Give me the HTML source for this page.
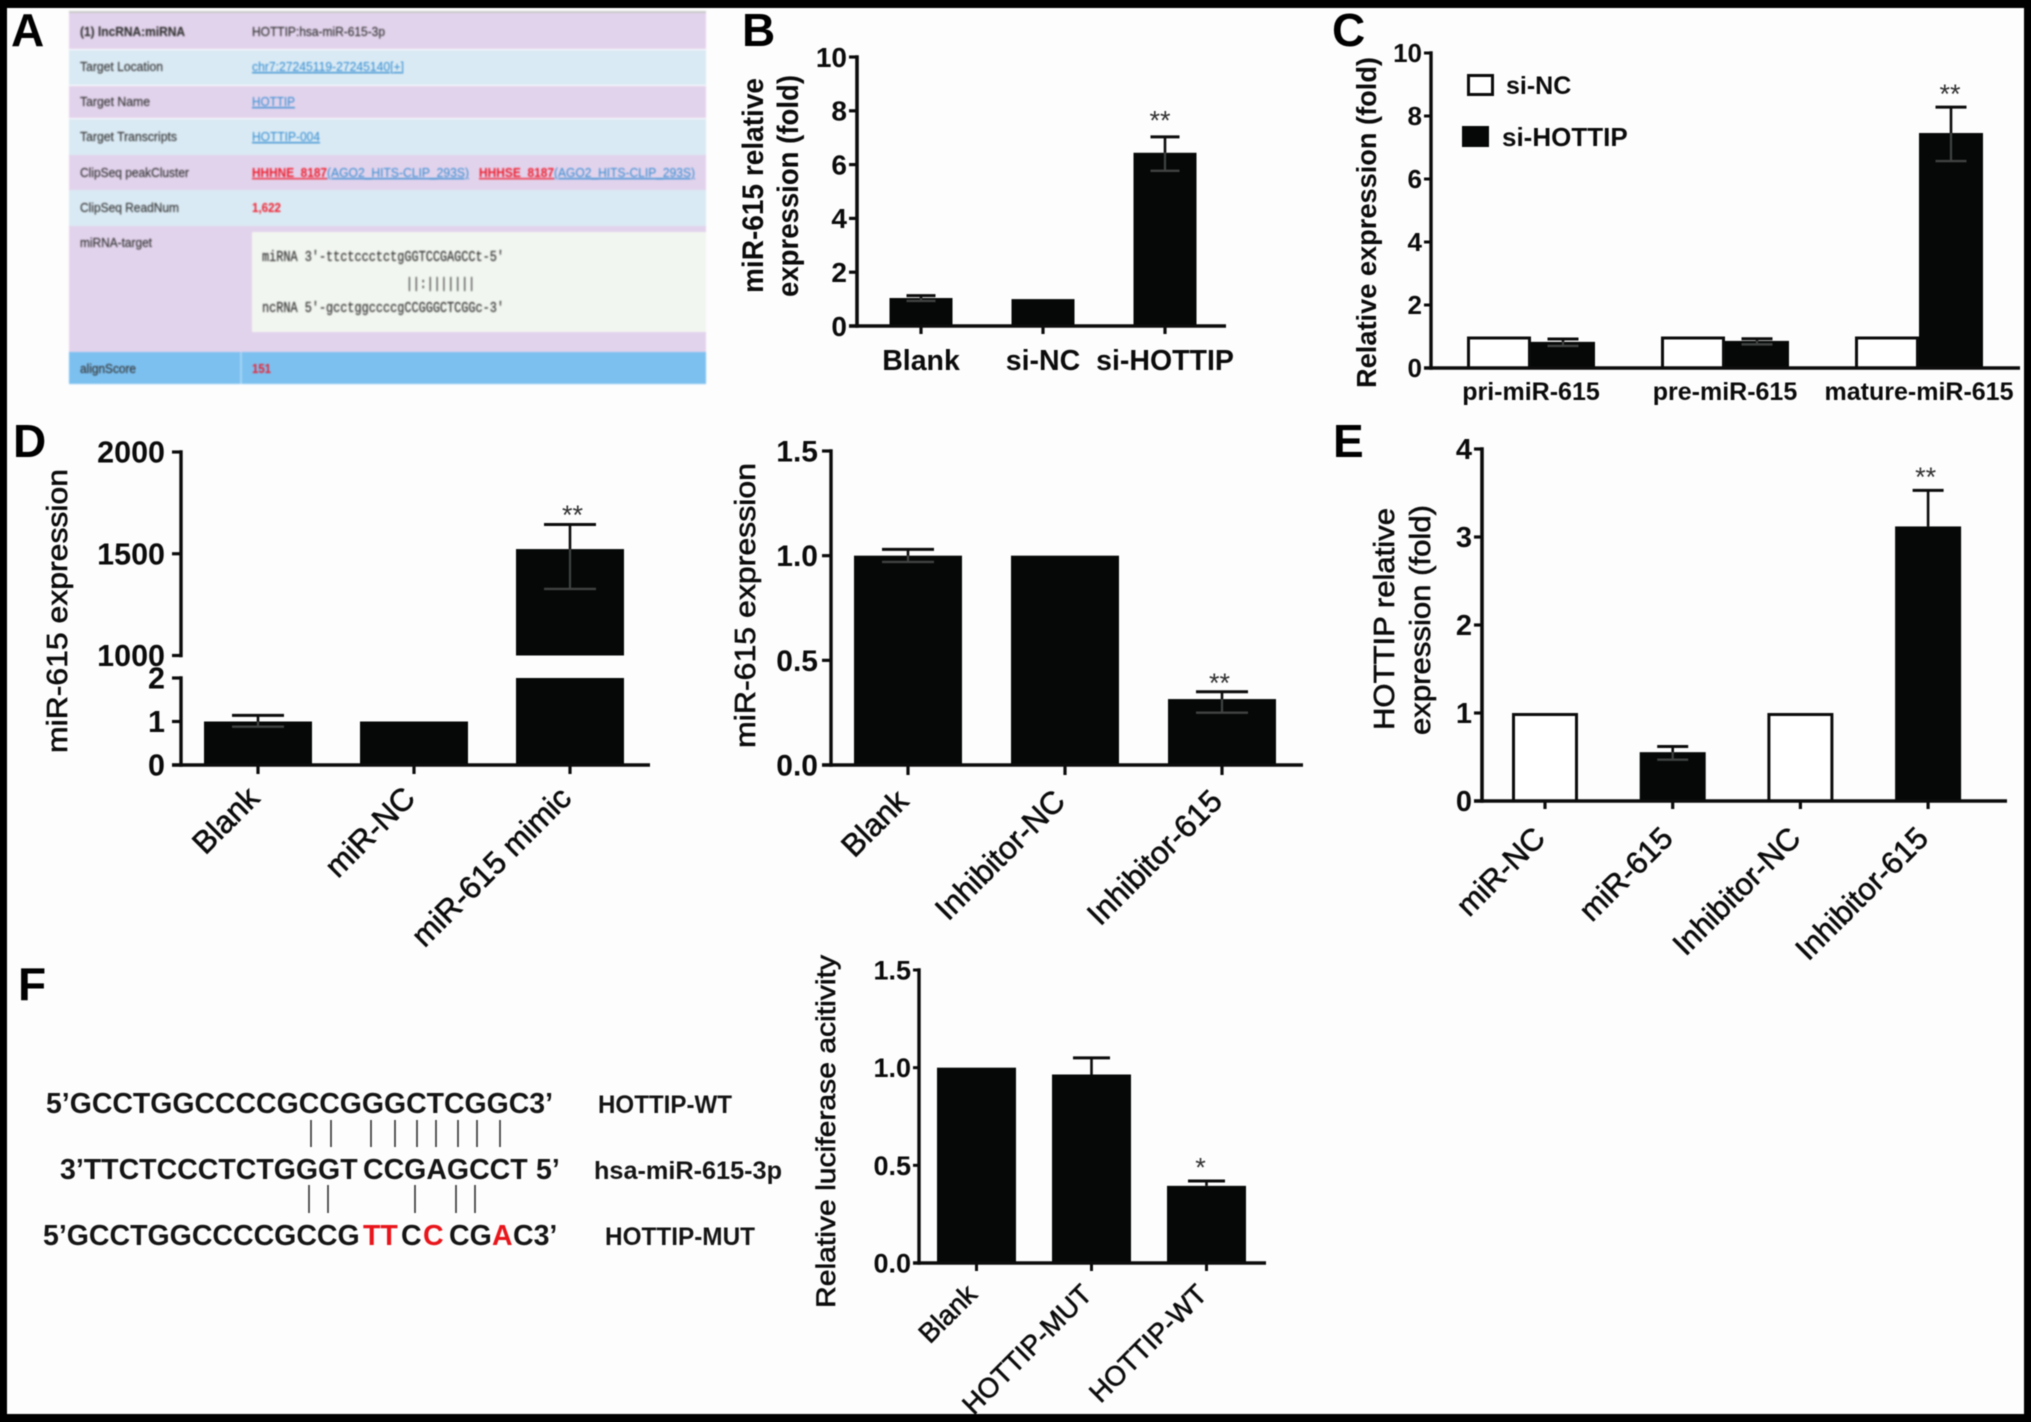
<!DOCTYPE html>
<html lang="en">
<head>
<meta charset="utf-8">
<title>HOTTIP and miR-615 figure</title>
<style>
html,body{margin:0;padding:0;background:#000;}
svg{display:block;filter:blur(0.45px);}
text{font-family:"Liberation Sans",sans-serif;fill:#0c0c0c;}
.panel-letter{font-size:46px;font-weight:bold;fill:#000;}
.title-bold{font-weight:bold;font-size:30px;}
.title-med{font-size:29px;stroke:#0c0c0c;stroke-width:.6px;}
.a-label{font-size:13px;fill:#333;stroke:#333;stroke-width:.15px;}
.a-link{font-size:13px;fill:#2f8ad0;text-decoration:underline;}
.a-red{font-size:13px;font-weight:bold;fill:#f01c2c;}
.a-redlink{font-size:13px;font-weight:bold;fill:#f01c2c;text-decoration:underline;}
.a-mono{font-family:"Liberation Mono",monospace;font-size:15px;fill:#333;stroke:#333;stroke-width:.2px;}
.seq{font-size:28.5px;font-weight:bold;fill:#151515;}
.seq-name{font-size:25px;font-weight:bold;fill:#151515;}
.red{fill:#e8161c;}
</style>
</head>
<body>
<svg id="figure" xmlns="http://www.w3.org/2000/svg" width="2031" height="1422" viewBox="0 0 2031 1422">
  <rect x="0" y="0" width="2031" height="1422" fill="#000"/>
  <rect x="7" y="8" width="2017" height="1406" fill="#fdfdfd"/>

  <text class="panel-letter" x="11" y="46">A</text>
  <text class="panel-letter" x="742" y="46">B</text>
  <text class="panel-letter" x="1332" y="46">C</text>
  <text class="panel-letter" x="13" y="457">D</text>
  <text class="panel-letter" x="1333" y="457">E</text>
  <text class="panel-letter" x="18" y="1000">F</text>

  <g id="panel-a" style="filter:blur(.7px)">
    <rect x="69" y="11" width="637" height="3" fill="#c9c9c9"/>
    <rect x="69" y="13" width="637" height="36" fill="#e2d3ec"/>
    <rect x="69" y="50" width="637" height="35" fill="#daeaf4"/>
    <rect x="69" y="86" width="637" height="32" fill="#e2d3ec"/>
    <rect x="69" y="119" width="637" height="36" fill="#daeaf4"/>
    <rect x="69" y="155" width="637" height="35" fill="#e2d3ec"/>
    <rect x="69" y="190" width="637" height="36" fill="#daeaf4"/>
    <rect x="69" y="226" width="637" height="126" fill="#e2d3ec"/>
    <rect x="252" y="232" width="454" height="100" fill="#f2f6f0"/>
    <rect x="69" y="352" width="637" height="32" fill="#7cc0f0"/>
    <rect x="240" y="352" width="2" height="32" fill="#a4d4f4"/>

    <text class="a-label" style="font-weight:bold" x="80" y="36" textLength="105" lengthAdjust="spacingAndGlyphs">(1) lncRNA:miRNA</text>
    <text class="a-label" x="252" y="36" textLength="133" lengthAdjust="spacingAndGlyphs">HOTTIP:hsa-miR-615-3p</text>
    <text class="a-label" x="80" y="71" textLength="83" lengthAdjust="spacingAndGlyphs">Target Location</text>
    <text class="a-link" x="252" y="71" textLength="152" lengthAdjust="spacingAndGlyphs">chr7:27245119-27245140[+]</text>
    <text class="a-label" x="80" y="106" textLength="70" lengthAdjust="spacingAndGlyphs">Target Name</text>
    <text class="a-link" x="252" y="106" textLength="43" lengthAdjust="spacingAndGlyphs">HOTTIP</text>
    <text class="a-label" x="80" y="141" textLength="97" lengthAdjust="spacingAndGlyphs">Target Transcripts</text>
    <text class="a-link" x="252" y="141" textLength="68" lengthAdjust="spacingAndGlyphs">HOTTIP-004</text>
    <text class="a-label" x="80" y="177" textLength="109" lengthAdjust="spacingAndGlyphs">ClipSeq peakCluster</text>
    <text class="a-redlink" x="252" y="177" textLength="75" lengthAdjust="spacingAndGlyphs">HHHNE_8187</text>
    <text class="a-link" x="327" y="177" textLength="142" lengthAdjust="spacingAndGlyphs">(AGO2_HITS-CLIP_293S)</text>
    <text class="a-redlink" x="479" y="177" textLength="75" lengthAdjust="spacingAndGlyphs">HHHSE_8187</text>
    <text class="a-link" x="554" y="177" textLength="141" lengthAdjust="spacingAndGlyphs">(AGO2_HITS-CLIP_293S)</text>
    <text class="a-label" x="80" y="212" textLength="99" lengthAdjust="spacingAndGlyphs">ClipSeq ReadNum</text>
    <text class="a-red" x="252" y="212" textLength="29" lengthAdjust="spacingAndGlyphs">1,622</text>
    <text class="a-label" x="80" y="247" textLength="72" lengthAdjust="spacingAndGlyphs">miRNA-target</text>
    <text class="a-mono" x="262" y="261" textLength="242" lengthAdjust="spacingAndGlyphs">miRNA 3'-ttctccctctgGGTCCGAGCCt-5'</text>
    <text class="a-mono" x="406" y="288" textLength="69" lengthAdjust="spacingAndGlyphs">||:|||||||</text>
    <text class="a-mono" x="262" y="312" textLength="242" lengthAdjust="spacingAndGlyphs">ncRNA 5'-gcctggccccgCCGGGCTCGGc-3'</text>
    <text class="a-label" x="80" y="373" textLength="56" lengthAdjust="spacingAndGlyphs">alignScore</text>
    <text class="a-red" x="252" y="373" textLength="19" lengthAdjust="spacingAndGlyphs">151</text>
  </g>

  <g id="chart-b">
    <text class="title-bold" transform="translate(763 293) rotate(-90)" textLength="215" lengthAdjust="spacingAndGlyphs">miR-615 relative</text>
    <text class="title-bold" transform="translate(798 297) rotate(-90)" textLength="222" lengthAdjust="spacingAndGlyphs">expression (fold)</text>
  </g>
  <g id="chart-c">
    <text class="title-bold" transform="translate(1376 388) rotate(-90)" textLength="331" lengthAdjust="spacingAndGlyphs" style="font-size:28px">Relative expression (fold)</text>
    <rect x="1468.5" y="75.5" width="24" height="19" fill="#fff" stroke="#0c0c0c" stroke-width="3"/>
    <text x="1506" y="94" font-size="25" font-weight="bold">si-NC</text>
    <rect x="1462" y="126" width="27" height="21" fill="#050807"/>
    <text x="1502" y="146" font-size="26" font-weight="bold">si-HOTTIP</text>
  </g>
  <g id="chart-d1">
    <text class="title-med" transform="translate(67 753) rotate(-90)" textLength="284" lengthAdjust="spacingAndGlyphs">miR-615 expression</text>
  </g>
  <g id="chart-d2">
    <text class="title-med" transform="translate(755 748) rotate(-90)" textLength="285" lengthAdjust="spacingAndGlyphs">miR-615 expression</text>
  </g>
  <g id="chart-e">
    <text class="title-med" transform="translate(1394 730) rotate(-90)" textLength="222" lengthAdjust="spacingAndGlyphs">HOTTIP relative</text>
    <text class="title-med" transform="translate(1430 735) rotate(-90)" textLength="230" lengthAdjust="spacingAndGlyphs">expression (fold)</text>
  </g>

  <g id="panel-f-sequences">
    <text class="seq" x="46" y="1113" textLength="507" lengthAdjust="spacingAndGlyphs">5’GCCTGGCCCCGCCGGGCTCGGC3’</text>
    <text class="seq-name" x="598" y="1113" textLength="134" lengthAdjust="spacingAndGlyphs">HOTTIP-WT</text>
    <path d="M311 1120V1147M331 1120V1147M371 1120V1147M395 1120V1147M417 1120V1147M436 1120V1147M458 1120V1147M477 1120V1147M500 1120V1147" stroke="#333" stroke-width="1.6" fill="none"/>
    <text class="seq" y="1179"><tspan x="60">3’TTCTCCCTCTGGGT</tspan><tspan x="363">CCGAGCCT</tspan><tspan x="536">5’</tspan></text>
    <text class="seq-name" x="594" y="1179" textLength="188" lengthAdjust="spacingAndGlyphs">hsa-miR-615-3p</text>
    <path d="M309 1185V1213M328 1185V1213M415 1185V1213M456 1185V1213M475 1185V1213" stroke="#333" stroke-width="1.6" fill="none"/>
    <text class="seq" y="1245"><tspan x="43">5’GCCTGGCCCCGCCG</tspan><tspan class="red" x="363">TT</tspan><tspan x="401">C</tspan><tspan class="red" x="423">C</tspan><tspan x="449">CG</tspan><tspan class="red" x="492">A</tspan><tspan x="513">C3’</tspan></text>
    <text class="seq-name" x="605" y="1245" textLength="150" lengthAdjust="spacingAndGlyphs">HOTTIP-MUT</text>
  </g>
  <g id="chart-f">
    <text class="title-med" transform="translate(835 1308) rotate(-90)" textLength="353" lengthAdjust="spacingAndGlyphs" style="font-size:27px">Relative luciferase acitivity</text>
  </g>
</svg>

<script>
// Panel B
const bCategories = ['Blank', 'si-NC', 'si-HOTTIP'];
const bValues = [1.04, 1.0, 6.44];
const bUpper = [1.13, 1.0, 7.03];
const bLower = [0.93, 1.0, 5.77];
const bStars = ['', '', '**'];
const bTicks = [0, 2, 4, 6, 8, 10];

// Panel C
const cCategories = ['pri-miR-615', 'pre-miR-615', 'mature-miR-615'];
const cSiNC = [1.0, 1.0, 1.0];
const cSiHOTTIP = [0.83, 0.86, 7.46];
const cUpper = [0.92, 0.93, 8.28];
const cLower = [0.70, 0.75, 6.57];
const cStars = ['', '', '**'];
const cTicks = [0, 2, 4, 6, 8, 10];

// Panel D, mimic (broken axis)
const d1Categories = ['Blank', 'miR-NC', 'miR-615 mimic'];
const d1Values = [1.0, 1.0, 1523];
const d1Upper = [1.14, 1.0, 1644];
const d1Lower = [0.88, 1.0, 1327];
const d1Stars = ['', '', '**'];
const d1Ticks = [0, 1, 2, 1000, 1500, 2000];

// Panel D, inhibitor
const d2Categories = ['Blank', 'Inhibitor-NC', 'Inhibitor-615'];
const d2Values = [1.0, 1.0, 0.315];
const d2Upper = [1.03, 1.0, 0.35];
const d2Lower = [0.97, 1.0, 0.25];
const d2Stars = ['', '', '**'];
const d2Ticks = [0, 0.5, 1.0, 1.5];

// Panel E
const eCategories = ['miR-NC', 'miR-615', 'Inhibitor-NC', 'Inhibitor-615'];
const eValues = [1.0, 0.555, 1.0, 3.12];
const eUpper = [1.0, 0.62, 1.0, 3.53];
const eLower = [1.0, 0.47, 1.0, 3.12];
const eStars = ['', '', '', '**'];
const eTicks = [0, 1, 2, 3, 4];

// Panel F
const fCategories = ['Blank', 'HOTTIP-MUT', 'HOTTIP-WT'];
const fValues = [1.0, 0.965, 0.395];
const fUpper = [1.0, 1.05, 0.42];
const fLower = [1.0, 0.965, 0.395];
const fStars = ['', '', '*'];
const fTicks = [0, 0.5, 1.0, 1.5];

const SVG_NS = 'http://www.w3.org/2000/svg';
const INK = '#0c0c0c';
const BAR_INK = '#050807';
const INNER_ERR = '#3f4240';

// Axis function: maps a value through one or more [domain]→[pixel] segments.
function makeScale(segments) {
  return function (v) {
    let s = segments[segments.length - 1];
    for (const seg of segments) {
      if (v <= seg.d1) { s = seg; break; }
    }
    return s.r0 + (v - s.d0) * (s.r1 - s.r0) / (s.d1 - s.d0);
  };
}

function line(g, name, x1, y1, x2, y2, stroke, width) {
  const el = document.createElementNS(SVG_NS, 'line');
  
  
  el.setAttribute('x1', x1);
  el.setAttribute('y1', y1);
  el.setAttribute('x2', x2);
  el.setAttribute('y2', y2);
  el.setAttribute('stroke', stroke);
  el.setAttribute('stroke-width', width);
  g.appendChild(el);
  return el;
}

function label(g, name, str, x, y, size, weight, anchor, rot, medium, color) {
  const el = document.createElementNS(SVG_NS, 'text');
  
  
  el.textContent = str;
  el.setAttribute('transform', 'translate(' + x + ' ' + y + ') rotate(' + rot + ')');
  el.setAttribute('font-size', size);
  el.setAttribute('font-weight', weight);
  el.setAttribute('text-anchor', anchor);
  if (medium) {
    el.setAttribute('stroke', INK);
    el.setAttribute('stroke-width', '0.6');
  }
  if (color) {
    el.style.fill = color;
  }
  g.appendChild(el);
  return el;
}

function drawYAxis(g, c, segments, ticks, scale) {
  for (const seg of segments) {
    line(g, 'y-axis-line', c.axisX, seg.r0 + c.axisW / 2, c.axisX, seg.r1 - c.axisW / 2, INK, c.axisW);
  }
  for (const t of ticks) {
    const y = scale(t);
    line(g, 'y-axis-tick', c.axisX - c.tickLen, y, c.axisX, y, INK, c.tickW);
    label(g, 'y-tick-label', t.toFixed(c.decimals), c.axisX - c.tickLen - c.labelGap, y + c.tickSize * 0.35, c.tickSize, 'bold', 'end', 0, false);
  }
}

function drawBar(g, segments, scale, left, width, v, open) {
  for (const seg of segments) {
    if (v <= seg.d0) continue;
    const top = scale(Math.min(v, seg.d1));
    const bottom = seg.r0;
    const el = document.createElementNS(SVG_NS, 'rect');
    
    
    if (open) {
      el.setAttribute('x', left + 1.5);
      el.setAttribute('y', top + 1.5);
      el.setAttribute('width', width - 3);
      el.setAttribute('height', Math.max(bottom - top - 1.5, 0));
      el.setAttribute('fill', '#fff');
      el.setAttribute('stroke', INK);
      el.setAttribute('stroke-width', 3);
    } else {
      el.setAttribute('x', left);
      el.setAttribute('y', top);
      el.setAttribute('width', width);
      el.setAttribute('height', Math.max(bottom - top, 0));
      el.setAttribute('fill', BAR_INK);
    }
    g.appendChild(el);
  }
}

function drawError(g, scale, cx, capW, v, up, low) {
  const half = capW / 2;
  if (up > v) {
    line(g, 'error-bar-upper', cx, scale(v), cx, scale(up), INK, 2.6);
    line(g, 'error-cap-upper', cx - half, scale(up), cx + half, scale(up), INK, 3);
  }
  if (low < v) {
    line(g, 'error-bar-lower', cx, scale(v), cx, scale(low), INNER_ERR, 2.2);
    line(g, 'error-cap-lower', cx - half, scale(low), cx + half, scale(low), INNER_ERR, 2.4);
  }
}

function drawStar(g, scale, cx, up, mark, gap, size) {
  if (!mark) return;
  label(g, 'significance-marker', mark, cx, scale(up) - gap + size * 0.58, size, 'normal', 'middle', 0, false, '#333');
}

function drawXAxis(g, c, centers) {
  line(g, 'x-axis-line', c.xStart, c.base, c.xEnd, c.base, INK, c.axisW);
  if (c.xTickLen) {
    for (const x of centers) {
      line(g, 'x-axis-tick', x, c.base, x, c.base + c.xTickLen, INK, c.tickW);
    }
  }
}

function drawSimpleChart(id, c, segments, categories, values, upper, lower, stars, ticks) {
  const g = document.getElementById(id);
  const scale = makeScale(segments);
  const centers = categories.map(function (_, i) { return c.firstCenter + i * c.step; });
  categories.forEach(function (cat, i) {
    const open = c.openControls && cat.endsWith('NC');
    drawBar(g, segments, scale, centers[i] - c.barW / 2, c.barW, values[i], open);
    drawError(g, scale, centers[i], c.capW, values[i], upper[i], lower[i]);
    drawStar(g, scale, centers[i] + c.starDx, upper[i], stars[i], c.starGap, c.starSize);
    if (c.catRot) {
      label(g, 'x-category-label', cat, centers[i] + c.catDx, c.catY, c.catSize, 'normal', 'end', c.catRot, true);
    } else {
      label(g, 'x-category-label', cat, centers[i], c.catY, c.catSize, 'bold', 'middle', 0, false);
    }
  });
  drawYAxis(g, c, segments, ticks, scale);
  drawXAxis(g, c, centers);
}

// Chart B
drawSimpleChart('chart-b', {
  axisX: 857, axisW: 3.6, tickW: 3.2, tickLen: 8, labelGap: 2, tickSize: 28, decimals: 0,
  xStart: 849, xEnd: 1226, base: 326, xTickLen: 8,
  firstCenter: 921, step: 122, barW: 63, capW: 29,
  starGap: 23, starDx: -5, starSize: 27, catY: 370, catSize: 28.5
}, [{ d0: 0, d1: 10, r0: 326, r1: 57 }], bCategories, bValues, bUpper, bLower, bStars, bTicks);

// Chart C (grouped)
(function () {
  const c = {
    axisX: 1431, axisW: 3.4, tickW: 3, tickLen: 7, labelGap: 2, tickSize: 26, decimals: 0,
    xStart: 1424, xEnd: 2020, base: 368, xTickLen: 0
  };
  const segments = [{ d0: 0, d1: 10, r0: 368, r1: 53 }];
  const g = document.getElementById('chart-c');
  const scale = makeScale(segments);
  const firstGroup = 1531;
  const groupStep = 194;
  const barW = 64;
  cCategories.forEach(function (cat, i) {
    const cx = firstGroup + i * groupStep;
    drawBar(g, segments, scale, cx - barW, barW, cSiNC[i], true);
    drawBar(g, segments, scale, cx, barW, cSiHOTTIP[i], false);
    drawError(g, scale, cx + barW / 2, 31, cSiHOTTIP[i], cUpper[i], cLower[i]);
    drawStar(g, scale, cx + barW / 2 - 1, cUpper[i], cStars[i], 20, 27);
    label(g, 'x-category-label', cat, cx, 400, 25, 'bold', 'middle', 0, false);
  });
  drawYAxis(g, c, segments, cTicks, scale);
  drawXAxis(g, c, []);
})();

// Chart D, mimic
drawSimpleChart('chart-d1', {
  axisX: 181, axisW: 3.4, tickW: 3.2, tickLen: 9, labelGap: 7, tickSize: 30.5, decimals: 0,
  xStart: 172, xEnd: 650, base: 765, xTickLen: 9,
  firstCenter: 258, step: 156, barW: 108, capW: 52,
  starGap: 16, starDx: 2.5, starSize: 27, catRot: -45, catDx: 3, catY: 800, catSize: 31.5
}, [{ d0: 0, d1: 2, r0: 765, r1: 678 }, { d0: 1000, d1: 2000, r0: 655.5, r1: 452 }],
  d1Categories, d1Values, d1Upper, d1Lower, d1Stars, d1Ticks);

// Chart D, inhibitor
drawSimpleChart('chart-d2', {
  axisX: 831, axisW: 3.4, tickW: 3.2, tickLen: 9, labelGap: 4, tickSize: 30, decimals: 1,
  xStart: 822, xEnd: 1303, base: 765, xTickLen: 10,
  firstCenter: 908, step: 157, barW: 108, capW: 52,
  starGap: 15.5, starDx: -2.5, starSize: 27, catRot: -45, catDx: 2, catY: 803, catSize: 31.5
}, [{ d0: 0, d1: 1.5, r0: 765, r1: 451 }], d2Categories, d2Values, d2Upper, d2Lower, d2Stars, d2Ticks);

// Chart E
drawSimpleChart('chart-e', {
  axisX: 1482, axisW: 3.6, tickW: 3.2, tickLen: 8, labelGap: 2, tickSize: 29, decimals: 0,
  xStart: 1474, xEnd: 2007, base: 801, xTickLen: 8, openControls: true,
  firstCenter: 1545, step: 127.7, barW: 66, capW: 31,
  starGap: 20, starDx: -2.5, starSize: 27, catRot: -45, catDx: 2, catY: 840, catSize: 31
}, [{ d0: 0, d1: 4, r0: 801, r1: 449 }], eCategories, eValues, eUpper, eLower, eStars, eTicks);

// Chart F
drawSimpleChart('chart-f', {
  axisX: 919, axisW: 3.4, tickW: 3, tickLen: 6, labelGap: 2, tickSize: 27, decimals: 1,
  xStart: 913, xEnd: 1266, base: 1263, xTickLen: 8,
  firstCenter: 976.5, step: 115, barW: 79, capW: 37,
  starGap: 20, starDx: -6, starSize: 27, catRot: -45, catDx: 2, catY: 1296, catSize: 27.5
}, [{ d0: 0, d1: 1.5, r0: 1263, r1: 970 }], fCategories, fValues, fUpper, fLower, fStars, fTicks);
</script>
</body>
</html>
